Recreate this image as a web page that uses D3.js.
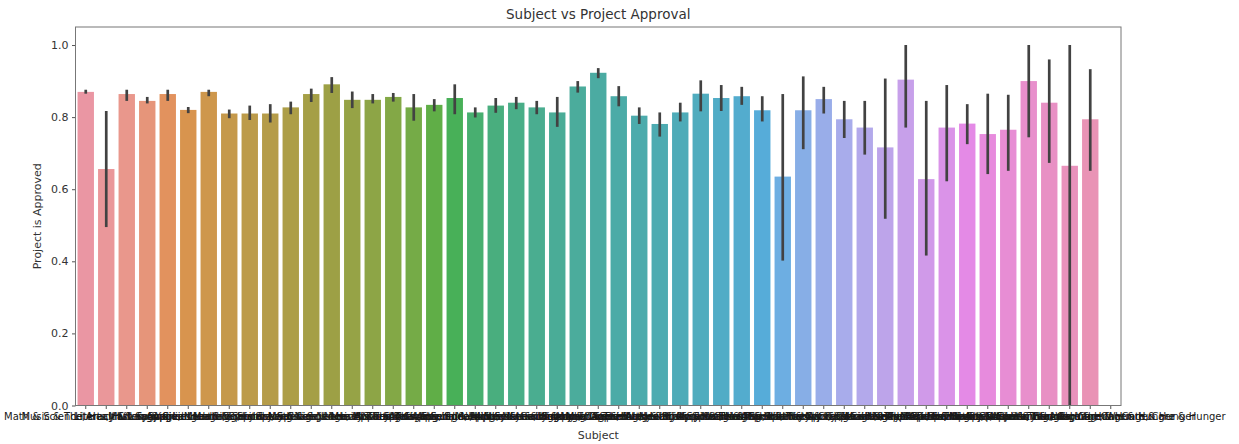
<!DOCTYPE html>
<html>
<head>
<meta charset="utf-8">
<script src="https://cdn.jsdelivr.net/npm/d3@7"></script>
<style>
  html, body { margin: 0; padding: 0; background: #fff; }
  svg { display: block; font-family: "DejaVu Sans", sans-serif; }
</style>
</head>
<body>
<svg id="chart" width="1239" height="444"></svg>
<script>
// Subject categories, in plotting order
const categories = [
  "Math & Science, Health & Sports",
  "Music & The Arts, History & Civics",
  "Literacy & Language",
  "Math & Science",
  "Literacy & Language, Math & Science",
  "Applied Learning",
  "Literacy & Language, Special Needs",
  "Health & Sports",
  "Applied Learning, Literacy & Language",
  "Math & Science, Special Needs",
  "Special Needs",
  "Literacy & Language, Music & The Arts",
  "History & Civics, Literacy & Language",
  "Math & Science, Music & The Arts",
  "Music & The Arts",
  "History & Civics",
  "Health & Sports, Special Needs",
  "Applied Learning, Special Needs",
  "Literacy & Language, History & Civics",
  "Math & Science, Applied Learning",
  "Applied Learning, Math & Science",
  "Health & Sports, Literacy & Language",
  "Math & Science, History & Civics",
  "Applied Learning, Music & The Arts",
  "Literacy & Language, Applied Learning",
  "Warmth, Care & Hunger",
  "History & Civics, Math & Science",
  "Applied Learning, Health & Sports",
  "Math & Science, Literacy & Language",
  "Special Needs, Music & The Arts",
  "History & Civics, Music & The Arts",
  "Health & Sports, Math & Science",
  "History & Civics, Special Needs",
  "Applied Learning, History & Civics",
  "Health & Sports, History & Civics",
  "Health & Sports, Applied Learning",
  "Music & The Arts, Special Needs",
  "Health & Sports, Music & The Arts",
  "Literacy & Language, Health & Sports",
  "History & Civics, Applied Learning",
  "Special Needs, Health & Sports",
  "Music & The Arts, Health & Sports",
  "History & Civics, Health & Sports",
  "Health & Sports, Warmth, Care & Hunger",
  "Music & The Arts, Applied Learning",
  "Special Needs, Warmth, Care & Hunger",
  "Math & Science, Warmth, Care & Hunger",
  "History & Civics, Warmth, Care & Hunger",
  "Applied Learning, Warmth, Care & Hunger",
  "Music & The Arts, Warmth, Care & Hunger",
  "Literacy & Language, Warmth, Care & Hunger"
];

// Mean approval rate per subject (null = no projects)
const approvalRate = [
  0.870, 0.656, 0.864, 0.845, 0.864, 0.820, 0.870, 0.810, 0.810, 0.810,
  0.827, 0.864, 0.891, 0.848, 0.848, 0.856, 0.827, 0.834, 0.853, 0.813,
  0.832, 0.840, 0.827, 0.813, 0.885, 0.923, 0.858, 0.804, 0.781, 0.813,
  0.865, 0.853, 0.858, 0.819, 0.635, 0.819, 0.850, 0.794, 0.771, 0.716,
  0.904, 0.628, 0.771, 0.782, 0.753, 0.765, 0.900, 0.840, 0.665, 0.794,
  null
];

// 95% confidence interval bounds
const ciLow = [
  0.865, 0.495, 0.845, 0.838, 0.845, 0.811, 0.858, 0.797, 0.792, 0.785,
  0.808, 0.842, 0.867, 0.825, 0.838, 0.843, 0.790, 0.816, 0.808, 0.799,
  0.812, 0.822, 0.808, 0.773, 0.868, 0.908, 0.830, 0.781, 0.746, 0.788,
  0.816, 0.817, 0.834, 0.788, 0.402, 0.711, 0.810, 0.742, 0.696, 0.518,
  0.771, 0.416, 0.622, 0.725, 0.642, 0.651, 0.744, 0.673, 0.000, 0.651,
  null
];
const ciHigh = [
  0.876, 0.817, 0.876, 0.856, 0.876, 0.828, 0.876, 0.821, 0.832, 0.836,
  0.843, 0.879, 0.911, 0.871, 0.864, 0.867, 0.864, 0.850, 0.891, 0.827,
  0.853, 0.856, 0.845, 0.856, 0.900, 0.936, 0.886, 0.827, 0.813, 0.840,
  0.902, 0.889, 0.884, 0.858, 0.864, 0.913, 0.884, 0.845, 0.845, 0.907,
  1.000, 0.845, 0.889, 0.836, 0.865, 0.862, 1.000, 0.960, 1.000, 0.933,
  null
];

const yTicks = [0.0, 0.2, 0.4, 0.6, 0.8, 1.0];

const rows = categories.map((c, i) => ({
  subject: c, rate: approvalRate[i], lo: ciLow[i], hi: ciHigh[i], i
}));

// ---- HUSL colour space (perceptually even hues) ----
const M = [[3.2406, -1.5372, -0.4986], [-0.9689, 1.8758, 0.0415], [0.0557, -0.2040, 1.0570]];
const refU = 0.19784, refV = 0.46834, KAPPA = 903.3, EPS = 0.008856;

function maxChroma(L, H) {
  const hr = H * Math.PI / 180, sinH = Math.sin(hr), cosH = Math.cos(hr);
  const sub1 = Math.pow(L + 16, 3) / 1560896;
  const sub2 = sub1 > EPS ? sub1 : L / KAPPA;
  let result = Infinity;
  for (const [m1, m2, m3] of M) {
    const top = (0.99915 * m1 + 1.05122 * m2 + 1.14460 * m3) * sub2;
    const rb = 0.86330 * m3 - 0.17266 * m2;
    const lb = 0.12949 * m3 - 0.38848 * m1;
    const bottom = (rb * sinH + lb * cosH) * sub2;
    for (const t of [0, 1]) {
      const C = L * (top - 1.05122 * t) / (bottom + 0.17266 * sinH * t);
      if (C > 0 && C < result) result = C;
    }
  }
  return result;
}
function fInv(t) { const t3 = t * t * t; return t3 > EPS ? t3 : (116 * t - 16) / KAPPA; }
function fromLinear(c) { return c <= 0.0031308 ? 12.92 * c : 1.055 * Math.pow(c, 1 / 2.4) - 0.055; }
function huslToRgb(h, s, l) {
  const C = maxChroma(l, h) / 100 * s;
  const hr = h * Math.PI / 180;
  const U = Math.cos(hr) * C, V = Math.sin(hr) * C;
  const varY = fInv((l + 16) / 116);
  const varU = U / (13 * l) + refU, varV = V / (13 * l) + refV;
  const Y = varY;
  const X = -(9 * Y * varU) / ((varU - 4) * varV - varU * varV);
  const Z = (9 * Y - 15 * varV * Y - varV * X) / (3 * varV);
  return M.map(r => Math.min(1, Math.max(0, fromLinear(r[0] * X + r[1] * Y + r[2] * Z))));
}
function huslPalette(n, l) {
  const out = [];
  for (let k = 0; k < n; k++) {
    const h = ((k / n + 0.01) % 1) * 359;
    const [r, g, b] = huslToRgb(h, 0.9 * 99, l * 99);
    const c = d3.hsl(d3.rgb(r * 255, g * 255, b * 255));
    c.s *= 0.75; // bar fill desaturation
    out.push(c.formatHex());
  }
  return out;
}
const palette = huslPalette(categories.length, 0.7);

// ---- Layout ----
const svg = d3.select("#chart");
const plot = { left: 75.5, right: 1121, top: 27, bottom: 405.5 };

const x = d3.scaleBand()
  .domain(categories)
  .range([plot.left, plot.right])
  .paddingInner(0.2)
  .paddingOuter(0.1);

const y = d3.scaleLinear()
  .domain([0, 1.05])
  .range([plot.bottom, plot.top]);

// Bars
svg.append("g")
  .selectAll("rect")
  .data(rows.filter(d => d.rate != null))
  .join("rect")
  .attr("x", d => x(d.subject))
  .attr("width", x.bandwidth())
  .attr("y", d => y(d.rate))
  .attr("height", d => y(0) - y(d.rate))
  .attr("fill", d => palette[d.i]);

// Confidence-interval lines
svg.append("g")
  .selectAll("line")
  .data(rows.filter(d => d.lo != null))
  .join("line")
  .attr("x1", d => x(d.subject) + x.bandwidth() / 2)
  .attr("x2", d => x(d.subject) + x.bandwidth() / 2)
  .attr("y1", d => y(d.lo))
  .attr("y2", d => y(d.hi))
  .attr("stroke", "#424242")
  .attr("stroke-width", 2.7);

// Y axis
const yAxis = svg.append("g")
  .attr("transform", `translate(${plot.left},0)`)
  .call(d3.axisLeft(y).tickValues(yTicks).tickFormat(d3.format(".1f")).tickSize(3.5).tickPadding(3.5).tickSizeOuter(0));
yAxis.select(".domain").remove();
yAxis.selectAll(".tick line").attr("stroke", "#555");
yAxis.selectAll(".tick text").attr("font-size", 11).attr("fill", "#333").attr("font-family", "DejaVu Sans");

// X axis
const xAxis = svg.append("g")
  .attr("transform", `translate(0,${plot.bottom})`)
  .call(d3.axisBottom(x).tickSize(3.5).tickPadding(4).tickSizeOuter(0));
xAxis.select(".domain").remove();
xAxis.selectAll(".tick line").attr("stroke", "#555");
xAxis.selectAll(".tick text").attr("font-size", 10).attr("fill", "#1a1a1a").attr("font-family", "DejaVu Sans");

// Frame
svg.append("rect")
  .attr("x", plot.left).attr("y", plot.top)
  .attr("width", plot.right - plot.left)
  .attr("height", plot.bottom - plot.top)
  .attr("fill", "none")
  .attr("stroke", "#777")
  .attr("stroke-width", 1);

// Titles
svg.append("text")
  .attr("x", (plot.left + plot.right) / 2).attr("y", 19)
  .attr("text-anchor", "middle")
  .attr("font-size", 13.5).attr("fill", "#333")
  .text("Subject vs Project Approval");

svg.append("text")
  .attr("x", (plot.left + plot.right) / 2).attr("y", 439)
  .attr("text-anchor", "middle")
  .attr("font-size", 11).attr("fill", "#333")
  .text("Subject");

svg.append("text")
  .attr("transform", `translate(41,${(plot.top + plot.bottom) / 2}) rotate(-90)`)
  .attr("text-anchor", "middle")
  .attr("font-size", 11).attr("fill", "#333")
  .text("Project is Approved");
</script>
</body>
</html>
